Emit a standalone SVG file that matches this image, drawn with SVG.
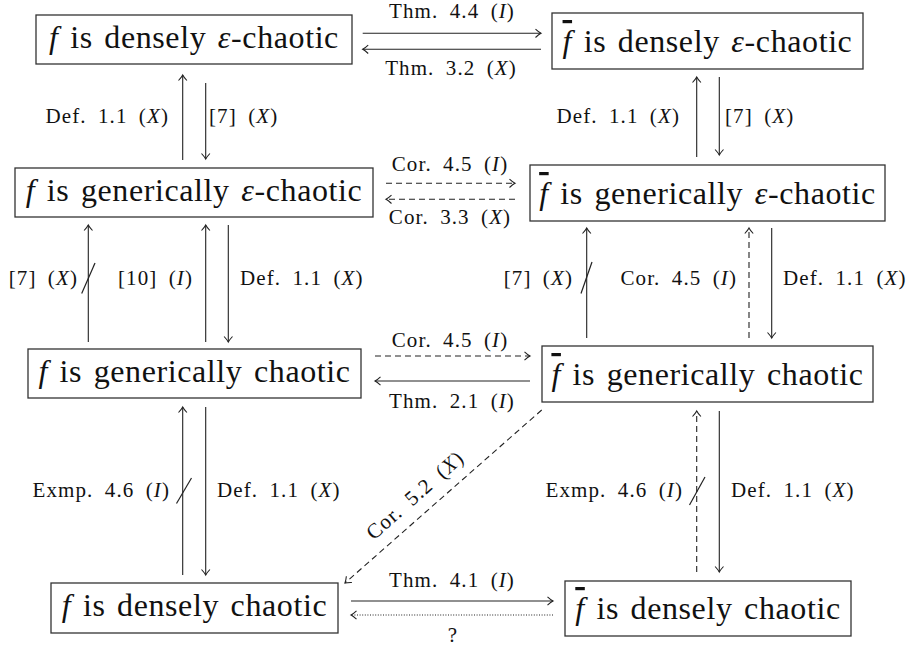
<svg xmlns="http://www.w3.org/2000/svg" width="909" height="647" viewBox="0 0 909 647">
<style>
.box{fill:#fff;stroke:#333;stroke-width:1.3}
.main{font-family:'Liberation Serif','Times New Roman',serif;font-size:32px;letter-spacing:0.6px;word-spacing:3px;fill:#111;text-anchor:middle}
.lbl{font-family:'Liberation Serif','Times New Roman',serif;font-size:21px;letter-spacing:1.1px;word-spacing:5px;fill:#111}
.it{font-style:italic}
.bar{text-decoration:overline}
.c{fill:none;stroke:#222;stroke-width:1.1}
.dash{stroke-dasharray:6 4}
.dot{stroke-dasharray:1 1.6}
.sl{stroke:#222;stroke-width:1.2}
.e{text-anchor:end}
.m{text-anchor:middle}
</style>
<defs>
<marker id="ah" markerUnits="userSpaceOnUse" markerWidth="12" markerHeight="12" viewBox="-7 -6 8 12" refX="0" refY="0" orient="auto">
<path d="M -5.5 -4.2 Q -2 -1 0 0 Q -2 1 -5.5 4.2" fill="none" stroke="#222" stroke-width="1.1" stroke-dasharray="none"/>
</marker>
</defs>

<g id="n1"><rect class="box" x="36" y="15" width="316" height="49"/><text class="main" x="194" y="48"><tspan class="it">f</tspan> is densely <tspan class="it">ε</tspan>-chaotic</text></g>
<g id="n2"><rect class="box" x="552" y="13" width="311" height="56"/><text class="main" x="707.5" y="52"><tspan class="it bar">f</tspan> is densely <tspan class="it">ε</tspan>-chaotic</text></g>
<g id="n3"><rect class="box" x="15" y="168" width="358" height="49"/><text class="main" x="194" y="201"><tspan class="it">f</tspan> is generically <tspan class="it">ε</tspan>-chaotic</text></g>
<g id="n4"><rect class="box" x="530" y="165" width="355" height="56"/><text class="main" x="707.5" y="204"><tspan class="it bar">f</tspan> is generically <tspan class="it">ε</tspan>-chaotic</text></g>
<g id="n5"><rect class="box" x="28" y="349" width="333" height="49"/><text class="main" x="194.5" y="382"><tspan class="it">f</tspan> is generically chaotic</text></g>
<g id="n6"><rect class="box" x="542" y="346" width="331" height="56"/><text class="main" x="707.5" y="385"><tspan class="it bar">f</tspan> is generically chaotic</text></g>
<g id="n7"><rect class="box" x="51" y="583" width="287" height="50"/><text class="main" x="194.5" y="616"><tspan class="it">f</tspan> is densely chaotic</text></g>
<g id="n8"><rect class="box" x="565" y="581" width="286" height="55"/><text class="main" x="708" y="619"><tspan class="it bar">f</tspan> is densely chaotic</text></g>

<g id="connectors">
<line class="c" x1="182.7" y1="160" x2="182.7" y2="75" marker-end="url(#ah)"/>
<line class="c" x1="205.7" y1="83" x2="205.7" y2="159" marker-end="url(#ah)"/>
<line class="c" x1="696.7" y1="157" x2="696.7" y2="77" marker-end="url(#ah)"/>
<line class="c" x1="719.3" y1="77" x2="719.3" y2="155" marker-end="url(#ah)"/>
<line class="c" x1="88.3" y1="342" x2="88.3" y2="225" marker-end="url(#ah)"/>
<line class="sl" x1="81.7" y1="293.5" x2="95" y2="263"/>
<line class="c" x1="205.7" y1="342" x2="205.7" y2="225" marker-end="url(#ah)"/>
<line class="c" x1="228.3" y1="225" x2="228.3" y2="342" marker-end="url(#ah)"/>
<line class="c" x1="586.7" y1="338" x2="586.7" y2="228" marker-end="url(#ah)"/>
<line class="sl" x1="581" y1="293.5" x2="592" y2="262"/>
<line class="c dash" x1="749" y1="338" x2="749" y2="228" marker-end="url(#ah)"/>
<line class="c" x1="771.7" y1="228" x2="771.7" y2="338" marker-end="url(#ah)"/>
<line class="c" x1="182.7" y1="575" x2="182.7" y2="407" marker-end="url(#ah)"/>
<line class="sl" x1="176.5" y1="503.5" x2="191.5" y2="478"/>
<line class="c" x1="205.7" y1="407" x2="205.7" y2="575" marker-end="url(#ah)"/>
<line class="c dash" x1="696.7" y1="572" x2="696.7" y2="411" marker-end="url(#ah)"/>
<line class="sl" x1="689.5" y1="505" x2="705" y2="477"/>
<line class="c" x1="719.3" y1="411" x2="719.3" y2="572" marker-end="url(#ah)"/>
<line class="c" x1="362.7" y1="33.3" x2="541" y2="33.3" marker-end="url(#ah)"/>
<line class="c" x1="541" y1="49.3" x2="362.7" y2="49.3" marker-end="url(#ah)"/>
<line class="c dash" x1="386" y1="183.3" x2="515" y2="183.3" marker-end="url(#ah)"/>
<line class="c dash" x1="515" y1="199.3" x2="386" y2="199.3" marker-end="url(#ah)"/>
<line class="c dash" x1="375" y1="356" x2="530" y2="356" marker-end="url(#ah)"/>
<line class="c" x1="530" y1="381" x2="375" y2="381" marker-end="url(#ah)"/>
<line class="c" x1="351" y1="601" x2="553" y2="601" marker-end="url(#ah)"/>
<line class="c dot" x1="553" y1="615" x2="351" y2="615" marker-end="url(#ah)"/>
<line class="c dash" x1="541.7" y1="410" x2="345" y2="583" marker-end="url(#ah)"/>
</g>

<g id="labels">
<text class="lbl e" x="169" y="123">Def. 1.1 (<tspan class="it">X</tspan>)</text>
<text class="lbl" x="209" y="123">[7] (<tspan class="it">X</tspan>)</text>
<text class="lbl e" x="680" y="123">Def. 1.1 (<tspan class="it">X</tspan>)</text>
<text class="lbl" x="725" y="123">[7] (<tspan class="it">X</tspan>)</text>
<text class="lbl e" x="78" y="285">[7] (<tspan class="it">X</tspan>)</text>
<text class="lbl e" x="193" y="285">[10] (<tspan class="it">I</tspan>)</text>
<text class="lbl" x="240" y="285">Def. 1.1 (<tspan class="it">X</tspan>)</text>
<text class="lbl e" x="573" y="285">[7] (<tspan class="it">X</tspan>)</text>
<text class="lbl e" x="737" y="285">Cor. 4.5 (<tspan class="it">I</tspan>)</text>
<text class="lbl" x="783" y="285">Def. 1.1 (<tspan class="it">X</tspan>)</text>
<text class="lbl e" x="170" y="497">Exmp. 4.6 (<tspan class="it">I</tspan>)</text>
<text class="lbl" x="217" y="497">Def. 1.1 (<tspan class="it">X</tspan>)</text>
<text class="lbl e" x="683" y="497">Exmp. 4.6 (<tspan class="it">I</tspan>)</text>
<text class="lbl" x="731" y="497">Def. 1.1 (<tspan class="it">X</tspan>)</text>
<text class="lbl m" x="452" y="18">Thm. 4.4 (<tspan class="it">I</tspan>)</text>
<text class="lbl m" x="451" y="75">Thm. 3.2 (<tspan class="it">X</tspan>)</text>
<text class="lbl m" x="450" y="171">Cor. 4.5 (<tspan class="it">I</tspan>)</text>
<text class="lbl m" x="450" y="224">Cor. 3.3 (<tspan class="it">X</tspan>)</text>
<text class="lbl m" x="450" y="347">Cor. 4.5 (<tspan class="it">I</tspan>)</text>
<text class="lbl m" x="452" y="408">Thm. 2.1 (<tspan class="it">I</tspan>)</text>
<text class="lbl m" x="452" y="587">Thm. 4.1 (<tspan class="it">I</tspan>)</text>
<text class="lbl m" x="453" y="642">?</text>
<text class="lbl m" transform="translate(415 495) rotate(-41.3)" x="0" y="7">Cor. 5.2 (<tspan class="it">X</tspan>)</text>
</g>
</svg>
